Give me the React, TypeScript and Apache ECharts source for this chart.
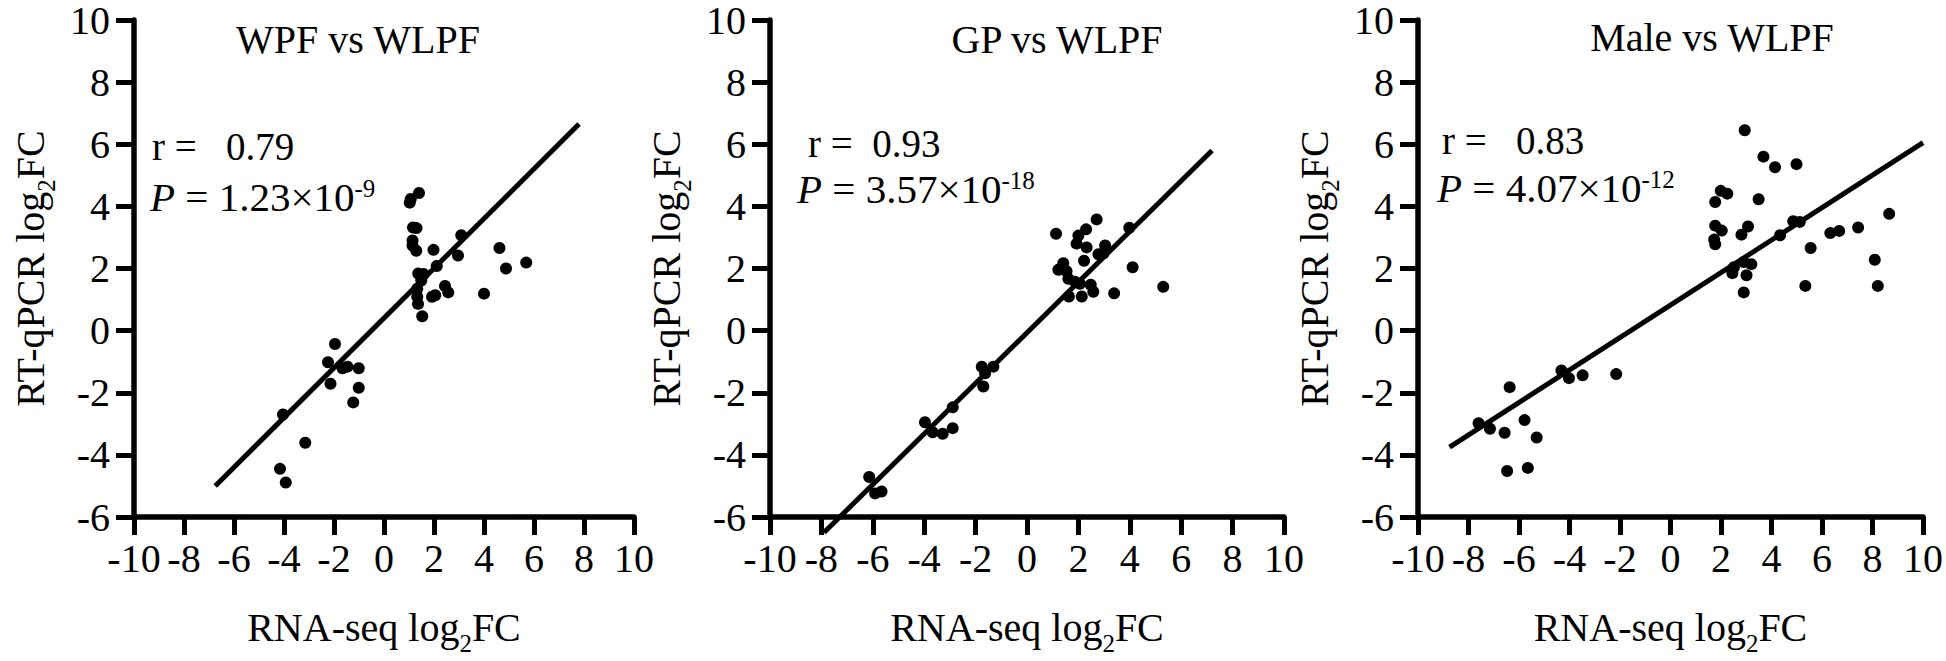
import React, { useEffect, useRef } from "react";
import * as echarts from "echarts";

const FONT = "'Liberation Serif', 'Times New Roman', Times, serif";

// ---- data ----
const panelTitles = ["WPF vs WLPF", "GP vs WLPF", "Male vs WLPF"];
const rValues = ["\u00a0 0.79", " 0.93", "\u00a0 0.83"];
const pMantissas = ["1.23", "3.57", "4.07"];
const pExponents = ["-9", "-18", "-12"];

const xMin = -10;
const xMax = 10;
const yMin = -6;
const yMax = 10;
const tickStep = 2;

const wpfPoints = [
  [1.4, 4.43], [1.07, 4.24], [1.03, 4.12], [1.16, 3.32], [1.3, 3.3], [1.14, 2.9], [1.14, 2.74],
  [1.29, 2.57], [1.98, 2.6], [3.09, 3.07], [2.96, 2.42], [2.11, 2.08], [1.37, 1.84], [1.59, 1.82],
  [1.49, 1.61], [1.33, 1.35], [2.44, 1.44], [2.57, 1.23], [1.92, 1.09], [2.05, 1.14], [1.33, 1.09],
  [1.36, 0.86], [1.53, 0.46], [4.62, 2.66], [4.88, 2.0], [5.69, 2.19], [4.0, 1.19], [-1.96, -0.43],
  [-2.24, -1.02], [-1.66, -1.21], [-1.46, -1.16], [-1.01, -1.21], [-2.14, -1.71], [-1.01, -1.84],
  [-1.23, -2.31], [-4.04, -2.7], [-3.15, -3.61], [-4.16, -4.45], [-3.93, -4.89],
];
const gpPoints = [
  [2.71, 3.58], [1.13, 3.12], [2.3, 3.26], [2.0, 3.06], [1.93, 2.8], [2.32, 2.68], [3.04, 2.74],
  [3.98, 3.31], [2.78, 2.46], [2.97, 2.48], [2.22, 2.25], [1.41, 2.17], [1.22, 1.96], [1.54, 1.91],
  [1.61, 1.67], [1.87, 1.57], [2.06, 1.51], [2.48, 1.48], [2.58, 1.25], [2.13, 1.1], [1.63, 1.1],
  [4.11, 2.04], [3.39, 1.2], [5.3, 1.41], [-1.76, -1.16], [-1.31, -1.16], [-1.63, -1.37],
  [-1.7, -1.8], [-2.89, -2.47], [-3.97, -2.95], [-3.67, -3.27], [-3.28, -3.32], [-2.89, -3.14],
  [-6.14, -4.71], [-5.91, -5.24], [-5.66, -5.18],
];
const malePoints = [
  [2.94, 6.45], [3.68, 5.6], [4.14, 5.26], [4.99, 5.36], [1.99, 4.5], [2.25, 4.41], [1.77, 4.14],
  [3.49, 4.23], [1.77, 3.38], [2.03, 3.22], [3.07, 3.35], [2.81, 3.09], [1.73, 2.93], [1.77, 2.78],
  [4.34, 3.07], [4.86, 3.52], [5.12, 3.5], [5.55, 2.66], [6.33, 3.14], [6.68, 3.21], [7.43, 3.32],
  [8.66, 3.76], [8.09, 2.28], [8.21, 1.44], [5.34, 1.44], [2.51, 2.04], [2.45, 1.85], [2.9, 2.21],
  [3.2, 2.14], [3.01, 1.78], [2.9, 1.23], [-4.32, -1.28], [-4.02, -1.53], [-3.48, -1.44],
  [-2.15, -1.4], [-6.37, -1.82], [-7.6, -2.98], [-7.15, -3.16], [-6.57, -3.29], [-5.78, -2.88],
  [-5.3, -3.44], [-6.47, -4.52], [-5.65, -4.42],
];
const wpfFit = [[-6.75, -5.0], [7.8, 6.65]];
const gpFit = [[-7.9, -6.5], [7.2, 5.8]];
const maleFit = [[-8.75, -3.75], [10.0, 6.05]];

const allPoints = [wpfPoints, gpPoints, malePoints];
const allFits = [wpfFit, gpFit, maleFit];

// ---- layout ----
const grids = [
  { left: 121, top: 19, width: 513, height: 510.5 },
  { left: 770, top: 19.5, width: 514, height: 510 },
  { left: 1418, top: 13.5, width: 512, height: 516.5 },
];
const titlePos = [[358, 39], [1057, 39], [1712, 37]];
const rPos = [[152, 146], [808, 143], [1442, 140]];
const pPos = [[150, 197], [797, 189], [1437, 188]];

const FS = 40;

function buildOption() {
  const axisLine = { show: true, onZero: false, lineStyle: { color: "#000", width: 5.5 } };
  const axisTick = { show: true, length: 18, lineStyle: { color: "#000", width: 5 } };
  const subRich = {
    sub: { fontSize: 25, lineHeight: 25, verticalAlign: "bottom", fontFamily: FONT, color: "#000" },
  };
  const xAxes = grids.map((_, i) => ({
    type: "value",
    gridIndex: i,
    min: xMin,
    max: xMax,
    interval: tickStep,
    axisLine,
    axisTick,
    splitLine: { show: false },
    axisLabel: { fontSize: FS, fontFamily: FONT, color: "#000", margin: 26, lineHeight: 30 },
    name: "RNA-seq log{sub|2}FC",
    nameLocation: "middle",
    nameGap: 81,
    nameTextStyle: { fontSize: FS, fontFamily: FONT, color: "#000", lineHeight: 58, rich: subRich },
  }));
  const yAxes = grids.map((_, i) => ({
    type: "value",
    gridIndex: i,
    min: yMin,
    max: yMax,
    interval: tickStep,
    axisLine,
    axisTick,
    splitLine: { show: false },
    axisLabel: { fontSize: FS, fontFamily: FONT, color: "#000", margin: 24, lineHeight: 28 },
    name: "RT-qPCR log{sub|2}FC",
    nameLocation: "middle",
    nameRotate: 90,
    nameGap: 75,
    nameTextStyle: { fontSize: FS, fontFamily: FONT, color: "#000", lineHeight: 58, rich: subRich },
  }));
  const series: any[] = [];
  grids.forEach((_, i) => {
    series.push({
      type: "line",
      xAxisIndex: i,
      yAxisIndex: i,
      data: allFits[i],
      symbol: "none",
      clip: false,
      lineStyle: { color: "#000", width: 5 },
      silent: true,
    });
    series.push({
      type: "scatter",
      xAxisIndex: i,
      yAxisIndex: i,
      data: allPoints[i],
      symbolSize: 12,
      itemStyle: { color: "#000", opacity: 1 },
      silent: true,
    });
  });
  const graphic: any[] = [];
  grids.forEach((_, i) => {
    graphic.push({
      type: "text",
      x: titlePos[i][0],
      y: titlePos[i][1],
      style: {
        text: panelTitles[i],
        fontSize: FS,
        fontFamily: FONT,
        fill: "#000",
        align: "center",
        verticalAlign: "middle",
        textAlign: "center",
        textVerticalAlign: "middle",
      },
    });
    graphic.push({
      type: "text",
      x: rPos[i][0],
      y: rPos[i][1],
      style: {
        text: "r = " + rValues[i],
        fontSize: 39,
        fontFamily: FONT,
        fill: "#000",
        align: "left",
        verticalAlign: "middle",
        textAlign: "left",
        textVerticalAlign: "middle",
      },
    });
    graphic.push({
      type: "text",
      x: pPos[i][0],
      y: pPos[i][1],
      style: {
        text: "{i|P}\u00a0=\u00a0" + pMantissas[i] + "×10{sup|" + pExponents[i] + "}",
        fontSize: 41,
        fontFamily: FONT,
        lineHeight: 42,
        fill: "#000",
        align: "left",
        verticalAlign: "middle",
        textAlign: "left",
        textVerticalAlign: "middle",
        rich: {
          i: { fontSize: 41, fontFamily: FONT, fontStyle: "italic", lineHeight: 42, fill: "#000" },
          sup: { fontSize: 25, fontFamily: FONT, lineHeight: 25, verticalAlign: "top", fill: "#000" },
        },
      },
    });
  });
  return {
    animation: false,
    backgroundColor: "#fff",
    grid: grids.map((g) => ({ ...g, containLabel: false })),
    xAxis: xAxes,
    yAxis: yAxes,
    series,
    graphic,
  };
}

export default function App() {
  const ref = useRef<HTMLDivElement>(null);
  useEffect(() => {
    document.body.style.margin = "0";
    const chart = echarts.init(ref.current!, null, { renderer: "svg" });
    chart.setOption(buildOption() as any);
    return () => chart.dispose();
  }, []);
  return <div ref={ref} style={{ width: 1946, height: 661 }} />;
}
